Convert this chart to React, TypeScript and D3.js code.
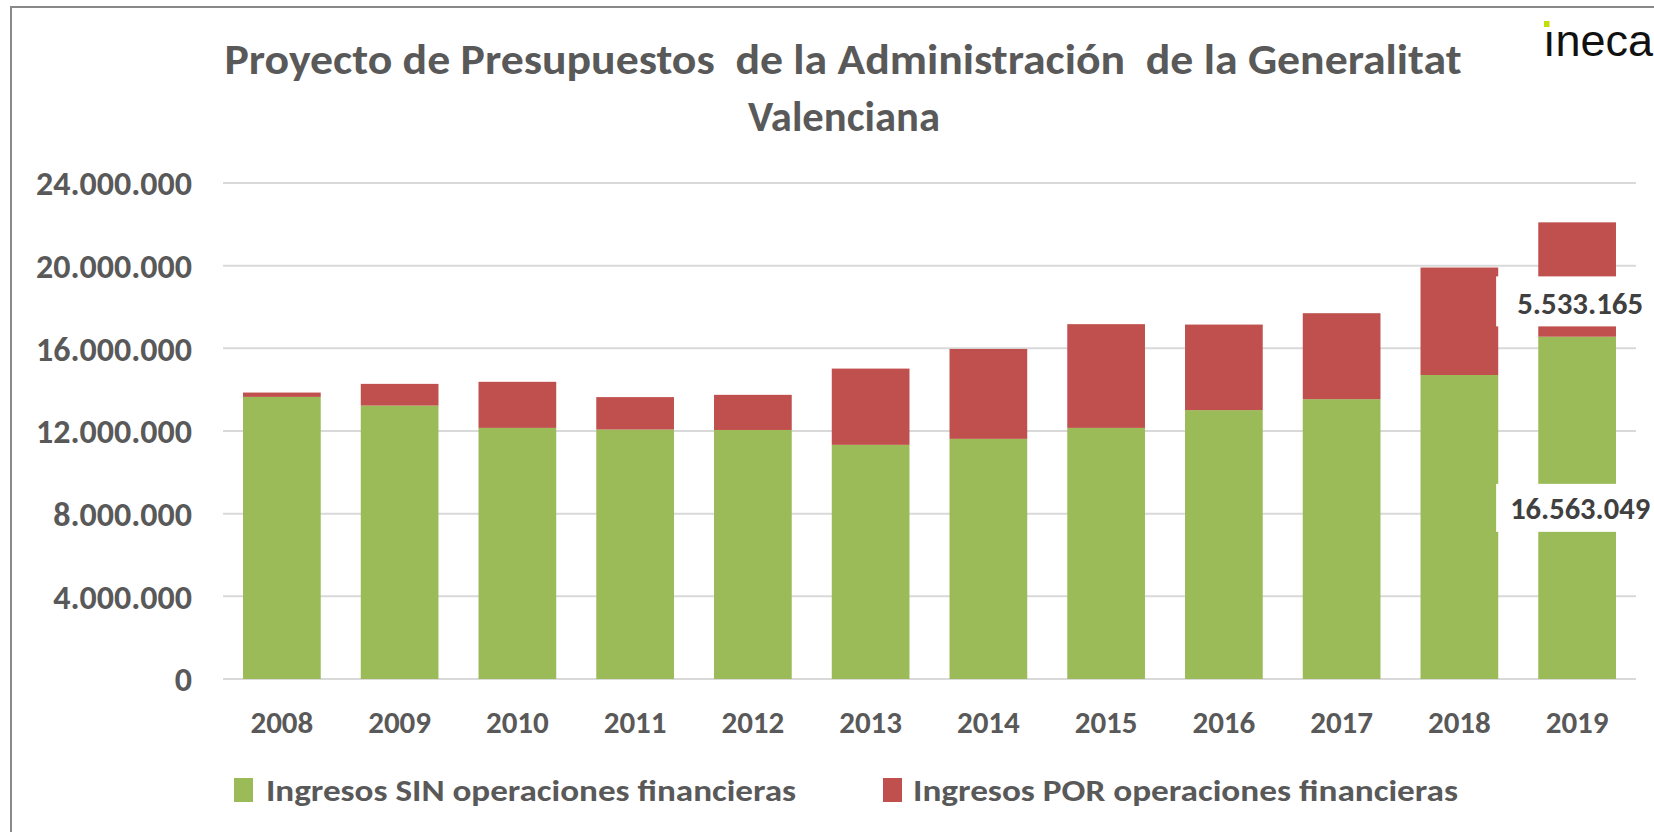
import React from 'react';
import * as d3 from 'd3';

// valores (miles de euros)
const years = ['2008', '2009', '2010', '2011', '2012', '2013', '2014', '2015', '2016', '2017', '2018', '2019'];
const sinOperaciones = [13650000, 13230000, 12150000, 12070000, 12050000, 11330000, 11620000, 12150000, 13010000, 13540000, 14710000, 16563049];
const porOperaciones = [210000, 1050000, 2230000, 1570000, 1700000, 3690000, 4350000, 5020000, 4140000, 4160000, 5200000, 5533165];
const yTicks = [0, 4000000, 8000000, 12000000, 16000000, 20000000, 24000000];
const seriesNames = ['Ingresos SIN operaciones financieras', 'Ingresos POR operaciones financieras'];
const colors = ['#9BBB59', '#C0504D'];

const W = 1654;
const H = 832;
const font = "Carlito, Lato, 'Open Sans', sans-serif";
const fmt = (v: number) => d3.format(',')(v).replace(/,/g, '.');

const App = () => {
  const x = d3.scaleBand<string>()
    .domain(years)
    .range([223, 1636])
    .paddingInner(0.34)
    .paddingOuter(0.17);

  const y = d3.scaleLinear()
    .domain([0, 24000000])
    .range([679, 183]);

  const rows = years.map((yr, i) => ({ year: yr, sin: sinOperaciones[i], por: porOperaciones[i] }));
  const stacked = d3.stack<any>().keys(['sin', 'por'])(rows);

  const last = rows[rows.length - 1];
  const lx = (x(last.year) as number) + x.bandwidth() / 2 + 3;
  const greenLabelY = y(last.sin / 2);
  const redLabelY = y(last.sin + last.por * 0.3);

  return (
    <svg width={W} height={H} style={{ position: 'absolute', left: 0, top: 0, background: '#fff' }}>
      <rect x={11} y={7} width={W} height={H} fill="#fff" stroke="#898989" strokeWidth={2} />

      {/* titulo */}
      <g fill="#595959" fontFamily={font} fontWeight="bold" fontSize={43} textAnchor="middle">
        <text x={843} y={74} textLength={1237} lengthAdjust="spacingAndGlyphs" style={{ whiteSpace: 'pre' }}>
          {'Proyecto de Presupuestos  de la Administración  de la Generalitat'}
        </text>
        <text x={844} y={131} textLength={192} lengthAdjust="spacingAndGlyphs">Valenciana</text>
      </g>

      {/* logo */}
      <text x={1543} y={56} fontFamily="'Liberation Sans', Arial, sans-serif" fontSize={45} fill="#111">ıneca</text>
      <rect x={1544} y={21} width={5.5} height={6} fill="#C5DD00" />

      {/* rejilla */}
      <g>
        {yTicks.map(t => (
          <line key={t} x1={223} x2={1636} y1={y(t)} y2={y(t)} stroke="#D9D9D9" strokeWidth={2} />
        ))}
      </g>

      {/* eje y */}
      <g fill="#595959" fontFamily={font} fontWeight="bold" fontSize={34} textAnchor="end">
        {yTicks.map(t => (
          <text key={t} x={192} y={y(t)} dy="0.36em">{fmt(t)}</text>
        ))}
      </g>

      {/* barras */}
      {stacked.map((s, si) => (
        <g key={si} fill={colors[si]}>
          {s.map((d: any, i: number) => (
            <rect key={i} x={x(years[i])} width={x.bandwidth()} y={y(d[1])} height={y(d[0]) - y(d[1])} />
          ))}
        </g>
      ))}

      {/* eje x */}
      <g fill="#595959" fontFamily={font} fontWeight="bold" fontSize={31} textAnchor="middle">
        {years.map(yr => (
          <text key={yr} x={(x(yr) as number) + x.bandwidth() / 2} y={722} dy="0.36em">{yr}</text>
        ))}
      </g>

      {/* etiquetas de datos 2019 */}
      <g fontFamily={font} fontWeight="bold" fontSize={31} textAnchor="middle" fill="#404040">
        <rect x={lx - 84} y={redLabelY - 26} width={168} height={50} fill="#fff" />
        <text x={lx} y={redLabelY} dy="0.36em" textLength={126} lengthAdjust="spacingAndGlyphs">{fmt(last.por)}</text>
        <rect x={lx - 84} y={greenLabelY - 24} width={168} height={48} fill="#fff" />
        <text x={lx} y={greenLabelY} dy="0.36em" textLength={140} lengthAdjust="spacingAndGlyphs">{fmt(last.sin)}</text>
      </g>

      {/* leyenda */}
      <g fontFamily={font} fontWeight="bold" fontSize={31} fill="#595959">
        <rect x={234} y={778} width={19} height={24} fill={colors[0]} />
        <text x={266} y={790} dy="0.36em" textLength={530} lengthAdjust="spacingAndGlyphs">{seriesNames[0]}</text>
        <rect x={883} y={778} width={19} height={24} fill={colors[1]} />
        <text x={913} y={790} dy="0.36em" textLength={545} lengthAdjust="spacingAndGlyphs">{seriesNames[1]}</text>
      </g>
    </svg>
  );
};

export default App;
